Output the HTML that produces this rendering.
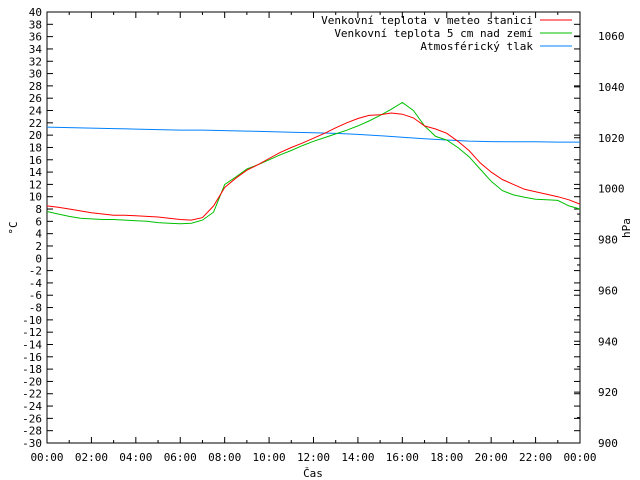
<!DOCTYPE html>
<html><head><meta charset="utf-8">
<style>
body{margin:0;background:#fff;}
svg{display:block;font-family:"DejaVu Sans Mono","Liberation Mono",monospace;font-size:11px;}
</style></head>
<body>
<svg id="chart" width="640" height="480" viewBox="0 0 640 480" xmlns="http://www.w3.org/2000/svg"></svg>
<script>
const hoursHalf = [];
for (let i = 0; i <= 48; i++) hoursHalf.push(i / 2);
const stationTemp = [8.5,8.3,8,7.7,7.4,7.2,7.0,7.0,6.9,6.8,6.7,6.5,6.3,6.2,6.6,8.5,11.5,13,14.3,15.2,16.2,17.2,18,18.7,19.5,20.3,21.2,22,22.7,23.2,23.3,23.6,23.4,22.8,21.5,21,20.3,19,17.5,15.5,14,12.8,12,11.2,10.8,10.4,10,9.5,8.8];
const groundTemp = [7.6,7.2,6.8,6.5,6.4,6.3,6.3,6.2,6.1,6.0,5.8,5.7,5.6,5.7,6.2,7.5,12.0,13.2,14.5,15.2,16,16.8,17.5,18.3,19,19.6,20.2,20.8,21.5,22.3,23.2,24.2,25.3,24,21.5,19.8,19.2,18,16.5,14.5,12.5,11,10.3,9.9,9.6,9.5,9.4,8.5,8.0];
const pressureHours = [0,1,2,3,4,5,6,7,8,9,10,11,12,13,14,15,16,17,18,19,20,21,22,23,24];
const pressure = [1024.2,1024,1023.8,1023.6,1023.4,1023.2,1023,1023,1022.8,1022.6,1022.4,1022.2,1022,1021.7,1021.3,1020.8,1020.2,1019.6,1019.1,1018.7,1018.5,1018.4,1018.4,1018.3,1018.3];
const xTickLabels = ["00:00","02:00","04:00","06:00","08:00","10:00","12:00","14:00","16:00","18:00","20:00","22:00","00:00"];
const yLeftTicks = [];
for (let v = -30; v <= 40; v += 2) yLeftTicks.push(v);
const yRightTicks = [900,920,940,960,980,1000,1020,1040,1060];

const L=47,R=580,T=12,B=443;
const x = h => L + h/24*(R-L);
const yT = v => T + (40-v)*(B-T)/70;
const yP = p => B - (p-900)*(B-36)/160;
const svg = document.getElementById('chart');
const NS='http://www.w3.org/2000/svg';
function mk(tag, attrs, parent){const e=document.createElementNS(NS,tag);for(const k in attrs)e.setAttribute(k,attrs[k]);(parent||svg).appendChild(e);return e;}

const frame = mk('rect',{x:L,y:T,width:R-L,height:B-T,fill:'none',stroke:'#000','stroke-width':1});



// x ticks
for (let h=0; h<=24; h++){
  const major = h%2===0, len = major?6:3;
  mk('line',{x1:x(h),y1:B,x2:x(h),y2:B-len,stroke:'#000'});
  mk('line',{x1:x(h),y1:T,x2:x(h),y2:T+len,stroke:'#000'});
}
xTickLabels.forEach((t,i)=>{
  const e=mk('text',{x:x(i*2),y:B+18,'text-anchor':'middle'});e.textContent=t;
  
  
});
yLeftTicks.forEach(v=>{
  mk('line',{x1:L,y1:yT(v),x2:L+6,y2:yT(v),stroke:'#000'});
  const e=mk('text',{x:L-5,y:yT(v)+4,'text-anchor':'end'});e.textContent=v;
  
  
});
for (let p=900;p<=1065;p+=10){mk('line',{x1:R,y1:yP(p),x2:R-(p%20===0?6:3),y2:yP(p),stroke:'#000'});}
for (let v=-30; v<=40; v+=2){mk('line',{x1:R,y1:yT(v),x2:R-6,y2:yT(v),stroke:'#000'});}
yRightTicks.forEach(p=>{
  const e=mk('text',{x:R+18,y:yP(p)+4});e.textContent=p;
  
  
});
let t=mk('text',{x:313,y:477,'text-anchor':'middle'});t.textContent='Čas';


t=mk('text',{x:17,y:228,'text-anchor':'middle',transform:'rotate(-90 17 228)'});t.textContent='°C';


t=mk('text',{x:630,y:228,'text-anchor':'middle',transform:'rotate(-90 630 228)'});t.textContent='hPa';



function line(xs, ys, fx, fy, color, name){
  const pts=xs.map((h,i)=>x(h).toFixed(1)+','+fy(ys[i]).toFixed(1)).join(' ');
  const e=mk('polyline',{points:pts,fill:'none',stroke:color,'stroke-width':1});
  
  
}
line(pressureHours, pressure, x, yP, '#0080ff', 'pressure-line');
line(hoursHalf, groundTemp, x, yT, '#00c000', 'ground-temp-line');
line(hoursHalf, stationTemp, x, yT, '#ff0000', 'station-temp-line');

const legend=[['Venkovní teplota v meteo stanici','#ff0000'],['Venkovní teplota 5 cm nad zemí','#00c000'],['Atmosférický tlak','#0080ff']];
legend.forEach((l,i)=>{
  const yy=20+i*13;
  const e=mk('text',{x:533,y:yy+4,'text-anchor':'end'});e.textContent=l[0];
  
  
  mk('line',{x1:540,y1:yy,x2:572,y2:yy,stroke:l[1]});
});
</script>
</body></html>
